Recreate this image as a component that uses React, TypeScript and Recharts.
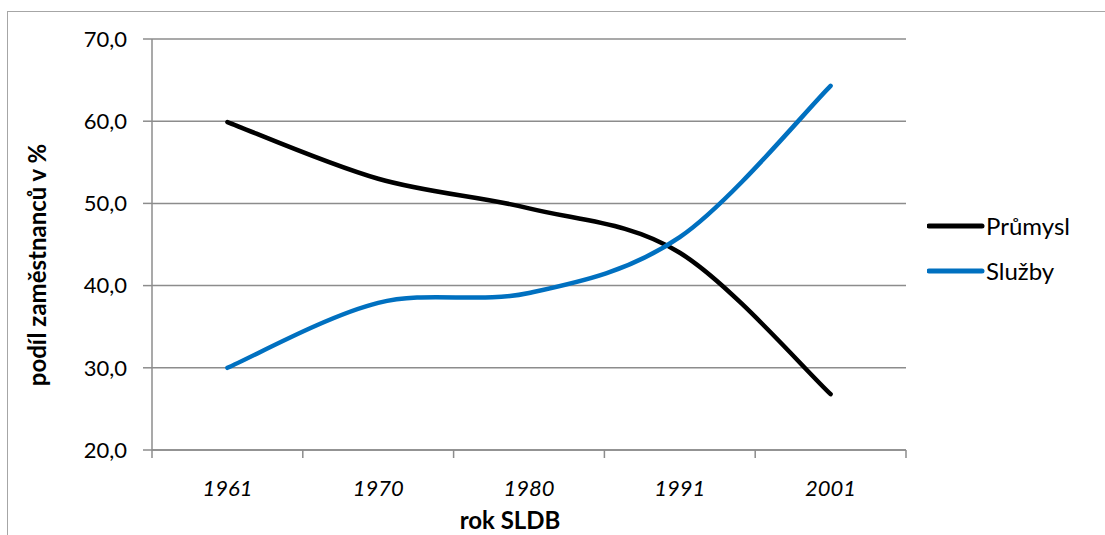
import React from 'react';
import { LineChart, Line, XAxis, YAxis, CartesianGrid, Label } from 'recharts';

const roky = ['1961', '1970', '1980', '1991', '2001'];
const prumysl = [59.9, 53.0, 49.4, 44.0, 26.8];
const sluzby = [30.0, 37.9, 39.1, 45.9, 64.3];
const yTicks = [20, 30, 40, 50, 60, 70];

const dados = roky.map((rok, i) => ({ rok, prumysl: prumysl[i], sluzby: sluzby[i] }));

const FONT = 'Lato, "Open Sans", sans-serif';
const GRID = '#8c8c8c';
const HALF_BAND = 75.4;

const SERIES = [
  { key: 'prumysl', nome: 'Průmysl', cor: '#000000' },
  { key: 'sluzby', nome: 'Služby', cor: '#0070C0' },
];

// vyhlazení jako v Excelu (Catmull-Rom)
const excelSmooth: any = (ctx: any) => {
  let pts: number[][] = [];
  return {
    areaStart() {},
    areaEnd() {},
    lineStart() {
      pts = [];
    },
    point(x: number, y: number) {
      pts.push([+x, +y]);
    },
    lineEnd() {
      if (!pts.length) return;
      ctx.moveTo(pts[0][0], pts[0][1]);
      for (let i = 0; i < pts.length - 1; i++) {
        const p0 = pts[Math.max(i - 1, 0)];
        const p1 = pts[i];
        const p2 = pts[i + 1];
        const p3 = pts[Math.min(i + 2, pts.length - 1)];
        ctx.bezierCurveTo(
          p1[0] + (p2[0] - p0[0]) / 6,
          p1[1] + (p2[1] - p0[1]) / 6,
          p2[0] - (p3[0] - p1[0]) / 6,
          p2[1] - (p3[1] - p1[1]) / 6,
          p2[0],
          p2[1]
        );
      }
    },
  };
};

const XTick = (props: any) => {
  const { x, y, payload, index } = props;
  return (
    <g>
      <line x1={x - HALF_BAND} y1={y} x2={x - HALF_BAND} y2={y + 8} stroke={GRID} strokeWidth={1.5} />
      {index === roky.length - 1 && (
        <line x1={x + HALF_BAND} y1={y} x2={x + HALF_BAND} y2={y + 8} stroke={GRID} strokeWidth={1.5} />
      )}
      <text x={x} y={y + 37} textAnchor="middle" dominantBaseline="central" fontStyle="italic" fontSize={22} fontFamily={FONT} fill="#000">
        {payload.value}
      </text>
    </g>
  );
};

const Legenda = () => (
  <div style={{ position: 'absolute', left: 927, top: 203, fontFamily: FONT, fontSize: 24 }}>
    {SERIES.map((it) => (
      <div key={it.nome} style={{ display: 'flex', alignItems: 'center', height: 45 }}>
        <svg width={58} height={10}>
          <line x1={2} y1={5} x2={55} y2={5} stroke={it.cor} strokeWidth={5} strokeLinecap="round" />
        </svg>
        <span style={{ marginLeft: 1 }}>{it.nome}</span>
      </div>
    ))}
  </div>
);

export default function App() {
  return (
    <div style={{ position: 'absolute', left: 0, top: 0, width: 1105, height: 535, background: '#fff', overflow: 'hidden' }}>
      <div style={{ position: 'absolute', left: 7, top: 11, width: 1200, height: 600, border: '1px solid #a6a6a6' }} />
      <div style={{ position: 'absolute', left: 0, top: 0 }}>
        <LineChart width={1105} height={535} data={dados} margin={{ top: 39, right: 199, left: 10, bottom: 0 }}>
          <CartesianGrid vertical={false} stroke={GRID} strokeWidth={1.5} />
          <XAxis
            dataKey="rok"
            height={85}
            padding={{ left: HALF_BAND, right: HALF_BAND }}
            axisLine={{ stroke: GRID, strokeWidth: 1.5 }}
            tickLine={false}
            tickSize={0}
            tickMargin={0}
            interval={0}
            tick={<XTick />}
          >
            <Label
              content={() => (
                <text x={510} y={519} textAnchor="middle" dominantBaseline="central" fontWeight="bold" fontSize={24} fontFamily={FONT} fill="#000">
                  rok SLDB
                </text>
              )}
            />
          </XAxis>
          <YAxis
            width={142}
            domain={[20, 70]}
            ticks={yTicks}
            interval={0}
            axisLine={{ stroke: GRID, strokeWidth: 1.5 }}
            tickLine={{ stroke: GRID, strokeWidth: 1.5 }}
            tickSize={9}
            tickMargin={16}
            tickFormatter={(v: number) => v.toFixed(1).replace('.', ',')}
            tick={{ fontSize: 22, fontFamily: FONT, fill: '#000' }}
          >
            <Label
              content={() => (
                <text
                  x={36}
                  y={265}
                  transform="rotate(-90 36 265)"
                  textAnchor="middle"
                  dominantBaseline="central"
                  fontWeight="bold"
                  fontSize={24}
                  fontFamily={FONT}
                  fill="#000"
                >
                  podíl zaměstnanců v %
                </text>
              )}
            />
          </YAxis>
          {SERIES.map((s) => (
            <Line
              key={s.key}
              dataKey={s.key}
              name={s.nome}
              type={excelSmooth}
              stroke={s.cor}
              strokeWidth={4.5}
              strokeLinecap="round"
              dot={false}
              activeDot={false}
              isAnimationActive={false}
            />
          ))}
        </LineChart>
      </div>
      <Legenda />
    </div>
  );
}
